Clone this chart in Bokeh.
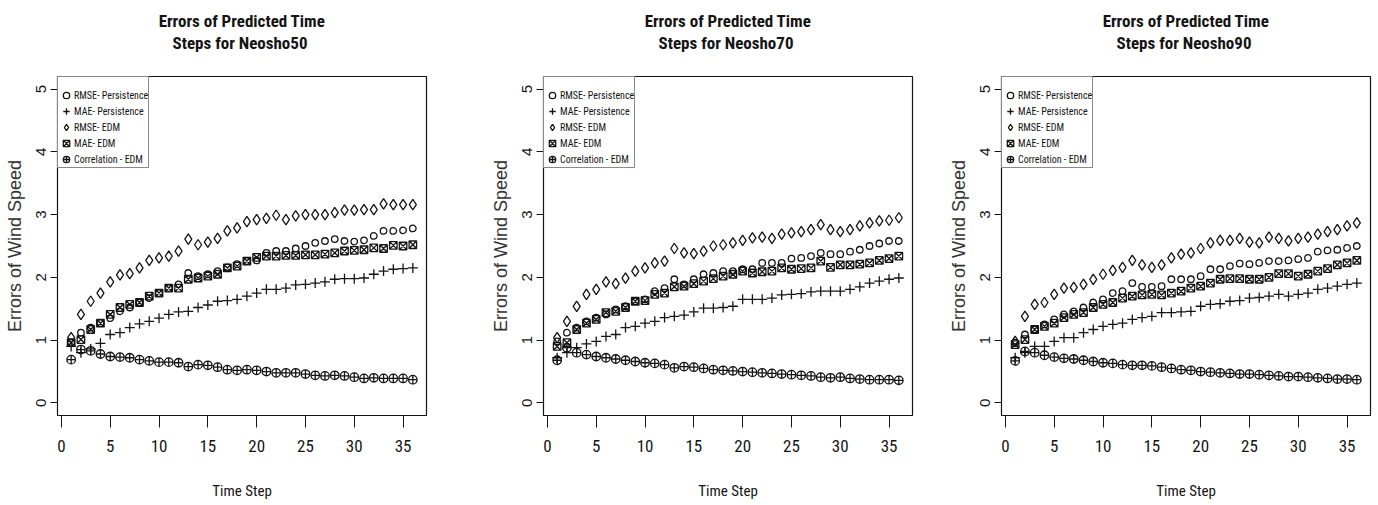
from bokeh.plotting import figure
from bokeh.layouts import row
from bokeh.models import Range1d, FixedTicker, Legend, LegendItem, Title
from bokeh.embed import file_html
from bokeh.resources import INLINE

# Forecast horizon (time steps)
steps = list(range(1, 37))

# --- Neosho50 ---
n50_rmse_persist = [0.96, 1.12, 1.20, 1.27, 1.35, 1.46, 1.52, 1.60, 1.67, 1.75, 1.83, 1.89,
                    2.07, 2.02, 2.05, 2.10, 2.16, 2.21, 2.26, 2.27, 2.39, 2.42, 2.42, 2.46,
                    2.50, 2.55, 2.58, 2.61, 2.58, 2.57, 2.59, 2.66, 2.74, 2.74, 2.75, 2.78]
n50_mae_persist = [0.90, 0.80, 0.86, 0.95, 1.09, 1.12, 1.20, 1.26, 1.30, 1.35, 1.41, 1.45,
                   1.46, 1.52, 1.56, 1.62, 1.63, 1.65, 1.70, 1.75, 1.81, 1.81, 1.83, 1.88,
                   1.89, 1.91, 1.93, 1.97, 1.98, 1.98, 1.99, 2.05, 2.10, 2.13, 2.14, 2.15]
n50_rmse_edm = [1.04, 1.41, 1.62, 1.75, 1.93, 2.04, 2.06, 2.15, 2.27, 2.31, 2.34, 2.42,
                2.61, 2.52, 2.56, 2.62, 2.74, 2.79, 2.89, 2.92, 2.94, 2.99, 2.92, 2.98,
                3.00, 3.00, 3.00, 3.03, 3.07, 3.07, 3.08, 3.08, 3.17, 3.16, 3.16, 3.16]
n50_mae_edm = [0.96, 1.01, 1.17, 1.27, 1.41, 1.52, 1.57, 1.60, 1.70, 1.75, 1.83, 1.83,
               1.97, 1.99, 2.02, 2.05, 2.15, 2.18, 2.26, 2.32, 2.34, 2.34, 2.35, 2.35,
               2.36, 2.36, 2.37, 2.39, 2.42, 2.43, 2.44, 2.47, 2.46, 2.51, 2.50, 2.52]
n50_corr_edm = [0.69, 0.85, 0.83, 0.78, 0.74, 0.73, 0.72, 0.69, 0.67, 0.65, 0.65, 0.64,
                0.58, 0.61, 0.60, 0.57, 0.53, 0.52, 0.53, 0.52, 0.50, 0.48, 0.48, 0.48,
                0.46, 0.44, 0.43, 0.44, 0.43, 0.41, 0.39, 0.40, 0.39, 0.39, 0.39, 0.37]

# --- Neosho70 ---
n70_rmse_persist = [0.98, 1.12, 1.20, 1.30, 1.36, 1.41, 1.49, 1.54, 1.62, 1.65, 1.78, 1.83,
                    1.97, 1.89, 1.97, 2.05, 2.07, 2.10, 2.10, 2.13, 2.13, 2.23, 2.23, 2.23,
                    2.30, 2.31, 2.34, 2.39, 2.37, 2.37, 2.41, 2.44, 2.50, 2.54, 2.58, 2.58]
n70_mae_persist = [0.72, 0.80, 0.88, 0.94, 0.98, 1.06, 1.09, 1.20, 1.22, 1.27, 1.30, 1.36,
                   1.38, 1.40, 1.45, 1.51, 1.51, 1.52, 1.54, 1.65, 1.65, 1.65, 1.67, 1.72,
                   1.73, 1.74, 1.77, 1.78, 1.78, 1.78, 1.81, 1.85, 1.91, 1.94, 1.97, 1.99]
n70_rmse_edm = [1.04, 1.30, 1.54, 1.73, 1.81, 1.93, 1.90, 1.99, 2.10, 2.15, 2.23, 2.26,
                2.46, 2.39, 2.38, 2.42, 2.50, 2.52, 2.55, 2.59, 2.63, 2.64, 2.62, 2.69,
                2.71, 2.73, 2.76, 2.84, 2.76, 2.73, 2.76, 2.82, 2.87, 2.90, 2.91, 2.95]
n70_mae_edm = [0.90, 0.96, 1.17, 1.27, 1.33, 1.44, 1.46, 1.52, 1.62, 1.63, 1.73, 1.75,
               1.85, 1.86, 1.90, 1.94, 1.98, 2.02, 2.05, 2.10, 2.07, 2.09, 2.10, 2.15,
               2.13, 2.14, 2.15, 2.26, 2.16, 2.20, 2.20, 2.21, 2.23, 2.27, 2.30, 2.34]
n70_corr_edm = [0.68, 0.88, 0.80, 0.77, 0.74, 0.72, 0.70, 0.68, 0.66, 0.64, 0.63, 0.61,
                0.56, 0.58, 0.57, 0.55, 0.53, 0.52, 0.51, 0.50, 0.49, 0.48, 0.47, 0.46,
                0.45, 0.44, 0.43, 0.41, 0.40, 0.41, 0.39, 0.38, 0.37, 0.37, 0.37, 0.36]

# --- Neosho90 ---
n90_rmse_persist = [0.96, 1.09, 1.17, 1.25, 1.33, 1.41, 1.46, 1.52, 1.60, 1.65, 1.75, 1.78,
                    1.91, 1.85, 1.85, 1.86, 1.97, 1.97, 1.97, 2.02, 2.13, 2.13, 2.18, 2.22,
                    2.21, 2.23, 2.26, 2.26, 2.27, 2.29, 2.31, 2.41, 2.43, 2.44, 2.47, 2.50]
n90_mae_persist = [0.72, 0.80, 0.90, 0.90, 0.98, 1.04, 1.04, 1.12, 1.17, 1.22, 1.25, 1.27,
                   1.33, 1.36, 1.38, 1.44, 1.44, 1.45, 1.46, 1.54, 1.57, 1.58, 1.62, 1.63,
                   1.67, 1.68, 1.70, 1.73, 1.70, 1.73, 1.75, 1.81, 1.83, 1.86, 1.89, 1.91]
n90_rmse_edm = [0.98, 1.38, 1.57, 1.60, 1.73, 1.83, 1.84, 1.89, 1.97, 2.05, 2.11, 2.16,
                2.27, 2.20, 2.16, 2.20, 2.31, 2.37, 2.39, 2.46, 2.55, 2.59, 2.59, 2.62,
                2.56, 2.55, 2.64, 2.62, 2.58, 2.62, 2.64, 2.69, 2.73, 2.76, 2.82, 2.87]
n90_mae_edm = [0.93, 1.01, 1.17, 1.22, 1.27, 1.36, 1.41, 1.44, 1.52, 1.57, 1.60, 1.67,
               1.70, 1.72, 1.73, 1.72, 1.75, 1.78, 1.83, 1.86, 1.91, 1.97, 1.98, 1.98,
               1.97, 1.97, 2.00, 2.06, 2.06, 2.02, 2.05, 2.10, 2.14, 2.20, 2.23, 2.27]
n90_corr_edm = [0.67, 0.82, 0.80, 0.76, 0.73, 0.71, 0.70, 0.68, 0.66, 0.64, 0.63, 0.61,
                0.60, 0.60, 0.59, 0.57, 0.55, 0.53, 0.52, 0.50, 0.49, 0.48, 0.47, 0.46,
                0.46, 0.45, 0.44, 0.43, 0.42, 0.42, 0.41, 0.40, 0.39, 0.38, 0.38, 0.37]

series_names = ["RMSE- Persistence", "MAE- Persistence", "RMSE- EDM", "MAE- EDM", "Correlation - EDM"]
x_ticks = [0, 5, 10, 15, 20, 25, 30, 35]
y_ticks = [0, 1, 2, 3, 4, 5]

sites = [
    ("Neosho50", [n50_rmse_persist, n50_mae_persist, n50_rmse_edm, n50_mae_edm, n50_corr_edm]),
    ("Neosho70", [n70_rmse_persist, n70_mae_persist, n70_rmse_edm, n70_mae_edm, n70_corr_edm]),
    ("Neosho90", [n90_rmse_persist, n90_mae_persist, n90_rmse_edm, n90_mae_edm, n90_corr_edm]),
]

NARROW = "Liberation Sans Narrow, Roboto Condensed, Liberation Sans, sans-serif"
REGULAR = "Liberation Sans, Arial, sans-serif"
INK = "#141414"

marker_styles = [
    dict(marker="circle", size=6.5),
    dict(marker="cross", size=10),
    dict(marker="diamond", size=10.5),
    dict(marker="square_x", size=7.5),
    dict(marker="circle_cross", size=8.5),
]

# panel borders (left, right) so the three plot frames sit side by side
borders = [(57, 33), (84, 6), (83, 8)]


def title_line(text, standoff):
    return Title(text=text, align="center", text_font=NARROW, text_font_size="17px",
                 text_font_style="bold", text_color=INK, standoff=standoff)


def make_panel(site, values, left, right):
    p = figure(
        frame_width=369, frame_height=339,
        min_border_left=left, min_border_right=right,
        min_border_top=76, min_border_bottom=90,
        x_range=Range1d(-0.4, 37.4), y_range=Range1d(-0.2, 5.2),
        output_backend="svg", toolbar_location=None,
    )
    # blank gap between frame and heading, then two centred heading lines
    p.add_layout(Title(text=" ", text_font_size="2px", standoff=20), "above")
    p.add_layout(title_line(" Steps for " + site, 0), "above")
    p.add_layout(title_line("Errors of Predicted Time", 0), "above")

    p.grid.visible = False
    p.outline_line_color = INK
    p.outline_line_width = 1.2
    p.background_fill_color = "white"
    p.border_fill_color = "white"

    xa = p.xaxis[0]
    xa.ticker = FixedTicker(ticks=x_ticks)
    xa.axis_line_color = None
    xa.major_tick_in = 0
    xa.major_tick_out = 12
    xa.major_tick_line_color = INK
    xa.minor_tick_line_color = None
    xa.major_label_text_font = NARROW
    xa.major_label_text_font_size = "17px"
    xa.major_label_text_color = INK
    xa.major_label_standoff = 12
    xa.axis_label = "Time Step"
    xa.axis_label_text_font = NARROW
    xa.axis_label_text_font_size = "15px"
    xa.axis_label_text_font_style = "normal"
    xa.axis_label_text_color = INK
    xa.axis_label_standoff = 27

    ya = p.yaxis[0]
    ya.ticker = FixedTicker(ticks=y_ticks)
    ya.axis_line_color = None
    ya.major_tick_in = 0
    ya.major_tick_out = 7
    ya.major_tick_line_color = INK
    ya.minor_tick_line_color = None
    ya.major_label_orientation = "vertical"
    ya.major_label_text_font = REGULAR
    ya.major_label_text_font_size = "15px"
    ya.major_label_text_color = INK
    ya.major_label_standoff = 4
    ya.axis_label = "Errors of Wind Speed"
    ya.axis_label_text_font = REGULAR
    ya.axis_label_text_font_size = "18px"
    ya.axis_label_text_font_style = "normal"
    ya.axis_label_text_color = "#333333"
    ya.axis_label_standoff = 9

    items = []
    for name, vals, style in zip(series_names, values, marker_styles):
        r = p.scatter(steps, vals, marker=style["marker"], size=style["size"],
                      fill_color=None, line_color=INK, line_width=1.3)
        items.append(LegendItem(label=name, renderers=[r]))

    legend = Legend(items=items, location="top_left", margin=0, padding=0,
                    spacing=0, glyph_width=16, glyph_height=16, label_height=16,
                    label_standoff=0, border_line_color=INK, border_line_width=1,
                    background_fill_color="white", background_fill_alpha=1,
                    label_text_font=NARROW, label_text_font_size="10px",
                    label_text_color=INK, title=" ", title_text_font_size="7px",
                    title_standoff=3)
    p.add_layout(legend, "center")
    return p


panels = [make_panel(site, vals, l, r) for (site, vals), (l, r) in zip(sites, borders)]
layout = row(*panels, spacing=0)

open("out.html", "w").write(file_html(layout, INLINE))
